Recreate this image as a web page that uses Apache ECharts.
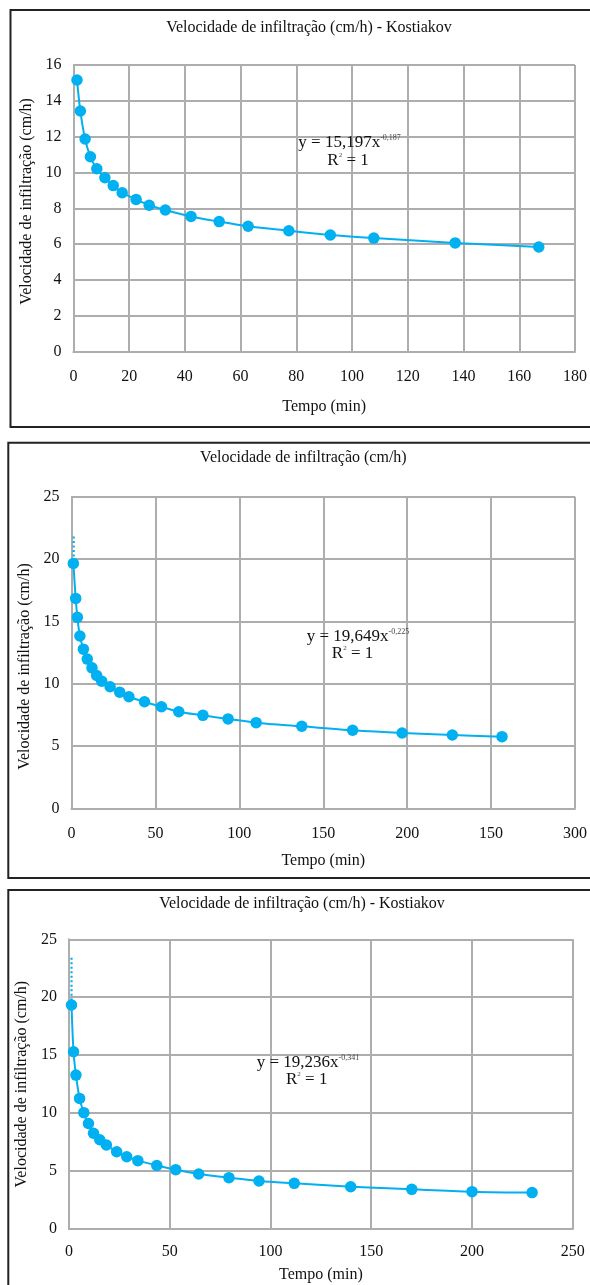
<!DOCTYPE html>
<html>
<head>
<meta charset="utf-8">
<script src="https://cdn.jsdelivr.net/npm/echarts@6/dist/echarts.min.js"></script>
<style>
html,body{margin:0;padding:0;background:#fff;overflow:hidden;}
#c{width:590px;height:1285px;}
</style>
</head>
<body>
<div id="c"></div>
<script>
// ---- Data ----
const titles = [
  'Velocidade de infiltração (cm/h) - Kostiakov',
  'Velocidade de infiltração (cm/h)',
  'Velocidade de infiltração (cm/h) - Kostiakov'
];
const xTitle = 'Tempo (min)';
const yTitle = 'Velocidade de infiltração (cm/h)';

const time1 = [1.3, 2.5, 4.2, 6.1, 8.4, 11.3, 14.3, 17.5, 22.5, 27.2, 33, 42.2, 52.3, 62.7, 77.3, 92.2, 107.8, 137, 167];
const rate1 = [15.16, 13.43, 11.87, 10.88, 10.21, 9.71, 9.27, 8.87, 8.5, 8.17, 7.91, 7.55, 7.26, 7.0, 6.75, 6.51, 6.34, 6.07, 5.84];

const time2 = [1.1, 2.5, 3.5, 5.0, 7.1, 9.4, 12.2, 15, 18, 23, 28.7, 34.2, 43.5, 53.6, 63.9, 78.3, 93.3, 110, 137.2, 167.5, 197, 226.9, 256.5];
const rate2 = [19.65, 16.84, 15.32, 13.82, 12.77, 11.97, 11.27, 10.65, 10.2, 9.75, 9.32, 8.95, 8.55, 8.15, 7.75, 7.46, 7.17, 6.87, 6.58, 6.26, 6.04, 5.88, 5.75];
const trendTime2 = [1.3, 1.3];
const trendRate2 = [21.8, 19.9];

const time3 = [1.3, 2.3, 3.5, 5.3, 7.4, 9.7, 12.2, 15.3, 18.6, 23.7, 28.7, 34.2, 43.6, 53, 64.4, 79.4, 94.3, 111.8, 139.8, 170.1, 200, 229.8];
const rate3 = [19.33, 15.3, 13.28, 11.27, 10.04, 9.1, 8.26, 7.7, 7.25, 6.67, 6.24, 5.9, 5.48, 5.12, 4.75, 4.43, 4.14, 3.94, 3.65, 3.42, 3.22, 3.14];
const trendTime3 = [1.3, 1.3];
const trendRate3 = [23.4, 19.6];

const xTicks1 = ['0','20','40','60','80','100','120','140','160','180'];
const xTicks2 = ['0','50','100','150','200','150','300'];
const xTicks3 = ['0','50','100','150','200','250'];

const eqMain = ['y = 15,197x', 'y = 19,649x', 'y = 19,236x'];
const eqExp = ['-0,187', '-0,225', '-0,341'];
const r2Text = '= 1';

// ---- Styles ----
const FONT = '"Liberation Serif", "Times New Roman", serif';
const TXT = '#111';
const BLUE = '#00b0f0';
const GRID = '#adadad';

function pairs(xs, ys){ return xs.map((x,i)=>[x, ys[i]]); }

const panels = [
  {grid:{left:73.4, top:65, width:503.2, height:286.7}, xmax:180, xint:20, ymax:16, yint:2, ticks:xTicks1, xGap:47, yGap:35, yPad:[0,0,0,14]},
  {grid:{left:71.5, top:496.7, width:503.5, height:311.6}, xmax:300, xint:50, ymax:25, yint:5, ticks:xTicks2, xGap:44, yGap:35, yPad:[0,28,0,0]},
  {grid:{left:68.9, top:939.3, width:503.9, height:289.7}, xmax:250, xint:50, ymax:25, yint:5, ticks:xTicks3, xGap:38, yGap:34, yPad:[0,0,0,0]}
];

const grids = panels.map(p => p.grid);
const xAxes = panels.map((p,i) => ({
  type:'value', gridIndex:i, min:0, max:p.xmax, interval:p.xint,
  axisLine:{show:true, lineStyle:{color:GRID, width:2}},
  axisTick:{show:false},
  splitLine:{show:true, lineStyle:{color:GRID, width:2}},
  axisLabel:{color:TXT, fontFamily:FONT, fontSize:16, margin:i===2?15:17,
    formatter:(v)=>p.ticks[Math.round(v/p.xint)]},
  name:xTitle, nameLocation:'middle', nameGap:p.xGap,
  nameTextStyle:{color:TXT, fontFamily:FONT, fontSize:16}
}));
const yAxes = panels.map((p,i) => ({
  type:'value', gridIndex:i, min:0, max:p.ymax, interval:p.yint,
  axisLine:{show:true, lineStyle:{color:GRID, width:2}},
  axisTick:{show:false},
  splitLine:{show:true, lineStyle:{color:GRID, width:2}},
  axisLabel:{color:TXT, fontFamily:FONT, fontSize:16, margin:12},
  name:yTitle, nameLocation:'middle', nameGap:p.yGap, nameRotate:90,
  nameTextStyle:{color:TXT, fontFamily:FONT, fontSize:16, padding:p.yPad}
}));

function mainSeries(i, xs, ys){
  return {type:'line', xAxisIndex:i, yAxisIndex:i, data:pairs(xs,ys),
    smooth:0.35, symbol:'circle', symbolSize:11.5, showSymbol:true,
    lineStyle:{color:BLUE, width:2}, itemStyle:{color:BLUE}, z:3, animation:false};
}
function trendSeries(i, xs, ys){
  return {type:'line', xAxisIndex:i, yAxisIndex:i, data:pairs(xs,ys),
    symbol:'none', lineStyle:{color:BLUE, width:2.2, type:[2,2.5]}, z:2, animation:false};
}

const series = [
  mainSeries(0, time1, rate1),
  trendSeries(1, trendTime2, trendRate2),
  mainSeries(1, time2, rate2),
  trendSeries(2, trendTime3, trendRate3),
  mainSeries(2, time3, rate3)
];

// annotation layout (pixel positions from reference)
const boxes = [
  {x:10.5, y:10, w:620, h:417},
  {x:8.3, y:442.7, w:620, h:435.3},
  {x:8.3, y:890, w:620, h:420}
];
const titlePos = [[309, 28], [303.4, 457.3], [302, 903.3]];
const eqPos = [[298.3, 143], [306.7, 636.7], [256.7, 1063]];
const r2Pos = [[348, 160.7], [352.5, 653.5], [306.7, 1080]];

const graphic = [];
boxes.forEach(b => graphic.push({type:'rect', z:100, silent:true,
  shape:{x:b.x, y:b.y, width:b.w, height:b.h},
  style:{fill:'none', stroke:'#222', lineWidth:2}}));
titles.forEach((t,i) => graphic.push({type:'text', z:100, x:titlePos[i][0], y:titlePos[i][1],
  style:{text:t, fill:TXT, font:'16px ' + FONT, textAlign:'center', textVerticalAlign:'middle', align:'center', verticalAlign:'middle'}}));
eqMain.forEach((t,i) => {
  graphic.push({type:'text', z:100, x:eqPos[i][0], y:eqPos[i][1],
    style:{text:'{m|' + t + '}{s|' + eqExp[i] + '}', fill:TXT,
      textAlign:'left', textVerticalAlign:'middle', align:'left', verticalAlign:'middle',
      rich:{m:{fontFamily:FONT, fontSize:17, lineHeight:18, fill:TXT, color:TXT},
            s:{fontFamily:FONT, fontSize:8, verticalAlign:'top', lineHeight:9, fill:'#444', color:'#444'}}}});
  graphic.push({type:'text', z:100, x:r2Pos[i][0], y:r2Pos[i][1],
    style:{text:'{m|R}{s|2}{m| ' + r2Text + '}', fill:TXT,
      textAlign:'center', textVerticalAlign:'middle', align:'center', verticalAlign:'middle',
      rich:{m:{fontFamily:FONT, fontSize:17, lineHeight:18, fill:TXT, color:TXT},
            s:{fontFamily:FONT, fontSize:7, verticalAlign:'top', lineHeight:8, fill:'#444', color:'#444'}}}});
});

const chart = echarts.init(document.getElementById('c'), null, {renderer:'canvas'});
chart.setOption({
  backgroundColor:'#fff',
  animation:false,
  grid:grids,
  xAxis:xAxes,
  yAxis:yAxes,
  series:series,
  graphic:graphic
});
</script>
</body>
</html>
